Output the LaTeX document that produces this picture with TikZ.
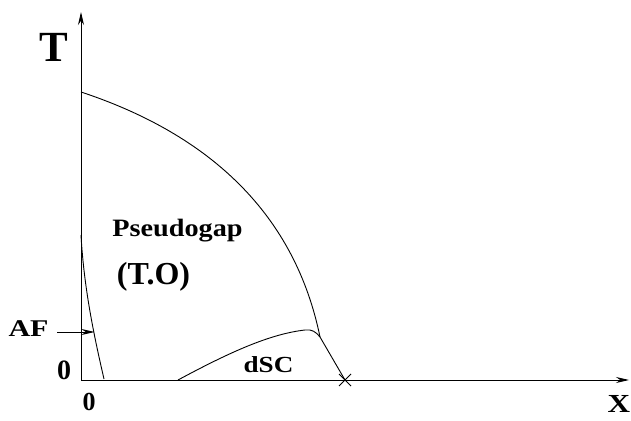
\documentclass[tikz,border=0pt]{standalone}
\usepackage{fontspec}
\setmainfont{Liberation Serif}
\usetikzlibrary{arrows.meta,calc}
\newcommand{\fsz}[1]{\fontsize{#1}{#1}\selectfont\bfseries}

\begin{document}
\begin{tikzpicture}[x=1pt,y=1pt,>={Stealth[length=13pt,width=6pt]},line width=0.9pt,
	lbl/.style={inner sep=0pt,anchor=base}]
	\useasboundingbox (0,0) rectangle (631,420);
	% axes
	\coordinate (O) at (81,40);
	\coordinate (Ttip) at (81,408);
	\coordinate (Xtip) at (629,40);
	\draw[->] (O) -- (Ttip);
	\draw[->] (O) -- (Xtip);
	% pseudogap line and its end on the axis
	\coordinate (pgtop) at (81,328);
	\coordinate (knee) at (320,83);
	\coordinate (xend) at (345,40);
	\draw (pgtop) .. controls (211,285) and (295,205) .. (knee) -- (xend);
	\draw ($(xend)+(-6,-6)$) -- ($(xend)+(6,6)$) ($(xend)+(-6,6)$) -- ($(xend)+(6,-6)$);
	% dSC dome
	\coordinate (dscstart) at (178,40);
	\draw (dscstart) .. controls (230,68) and (270,86) .. (305,90) .. controls (312,91) and (316,88) .. (knee);
	% AF line
	\coordinate (aftop) at (81,185);
	\coordinate (afend) at (104,41);
	\draw (aftop) .. controls (84,130) and (95,80) .. (afend);
	\coordinate (afin) at (57,88);
	\coordinate (afhit) at (94.5,88);
	\draw[->] (afin) -- (afhit);
	% labels
	\node[lbl,font=\fsz{43}] (tlab) at (53.5,358) {T};
	\node[lbl,font=\fsz{26},xscale=1.2,transform shape] (xlab) at (619,8) {X};
	\node[lbl,font=\fsz{25},xscale=1.13,transform shape] (pglab) at (177.5,183.5) {Pseudogap};
	\node[lbl,font=\fsz{32}] (tolab) at (153.5,135) {(T.O)};
	\node[lbl,font=\fsz{24},xscale=1.25,transform shape] (aflab) at (28.5,83) {AF};
	\node[lbl,font=\fsz{28}] (zeroT) at (64,41) {0};
	\node[lbl,font=\fsz{26}] (zeroX) at (89,10) {0};
	\node[lbl,font=\fsz{23},xscale=1.18,transform shape] (dsclab) at (268.5,48) {dSC};
\end{tikzpicture}
\end{document}
